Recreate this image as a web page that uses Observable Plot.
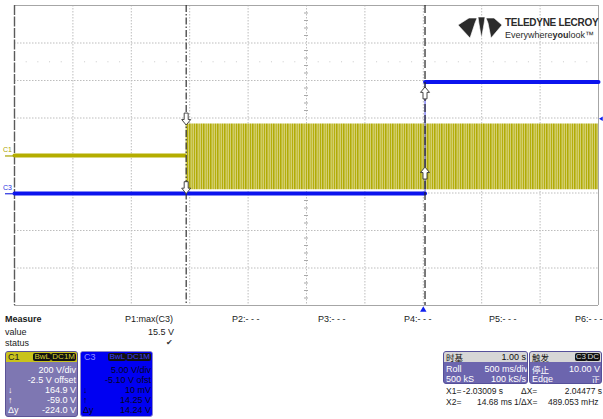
<!DOCTYPE html>
<html><head><meta charset="utf-8">
<script src="https://cdn.jsdelivr.net/npm/d3@7"></script>
<script src="https://cdn.jsdelivr.net/npm/@observablehq/plot@0.6"></script>
<style>
body{margin:0;background:#fff;font-family:"Liberation Sans",Arial,sans-serif;}
#wrap{position:relative;width:603px;height:419px;overflow:hidden;background:#fff;}
#chart{position:absolute;left:0;top:0;}
.t{position:absolute;font-size:9px;line-height:10px;height:10px;color:#1a1a1a;white-space:nowrap;}
.box{position:absolute;box-sizing:border-box;border-radius:3px;overflow:hidden;}
.hdr{position:absolute;left:0;top:0;right:0;height:10px;}
.tag{position:absolute;top:1px;height:8px;line-height:8px;font-size:8px;background:#111;border-radius:2px;padding:0 1px;}
.cjk{font-family:"Noto Sans CJK SC","Liberation Sans",sans-serif;font-size:8.5px;line-height:10px;}
</style></head>
<body>
<div id="wrap">
  <div id="chart"></div>
  <svg id="logo" width="146" height="30" style="position:absolute;left:455px;top:13px;">
    <g fill="#2b2b2b" stroke="#fff" stroke-width="0.6">
      <polygon points="3,12 14,5 22,5 20,10 15,25"/>
      <polygon points="23,4 30,4 29,11 26.5,25 24,11"/>
      <polygon points="31,5 39,5 47,12 36,25 33,10"/>
    </g>
    <text x="50" y="13" font-family="Liberation Sans,Arial" font-weight="bold" font-size="10" letter-spacing="-0.3" fill="#2b2b2b">TELEDYNE LECROY</text>
    <text x="50" y="25" font-family="Liberation Sans,Arial" font-size="9" fill="#2b2b2b">Everywhere<tspan font-weight="bold">you</tspan>look™</text>
  </svg>
  <div id="panel"></div>
</div>
<script>
const gridTimes = [-3.5,-3,-2.5,-2,-1.5,-1,-0.5,0,0.5,1,1.5];   // s, 500 ms/div, roll
const gridDivs = [-4,-3,-2,-1,0,1,2,3,4];
const channelNames = ["C1","C3"];
const c1VoltsPerDiv = 200, c1Offset = -2.5;
const c3VoltsPerDiv = 5, c3Offset = -5.10;
// C1: idle level, then burst envelope
const c1IdleTime = [-3.5, -2.03];
const c1IdleVolts = [2.0, 2.0];
const c1BurstTime = [-2.03, 1.5];
const c1BurstMax = [171, 171];
const c1BurstMin = [-180, -180];
// C3: step
const c3LowTime = [-3.5, 0.015];
const c3LowVolts = [0.03, 0.03];
const c3HighTime = [0.015, 1.5];
const c3HighVolts = [14.9, 14.9];
// cursors
const cursorTimes = [-2.03009, 0.01468];
const cursorC1Volts = [164.9, -59.0];
const cursorC3Volts = [0.01, 14.25];
const triggerTime = 0, triggerLevel = 10.0;
// readouts
const measureHeads = ["P1:max(C3)","P2:- - -","P3:- - -","P4:- - -","P5:- - -","P6:- - -"];
const measureValue = "15.5 V";
const c1Lines = [["","200 V/div"],["","-2.5 V offset"],["↓","164.9 V"],["↑","-59.0 V"],["Δy","-224.0 V"]];
const c3Lines = [["","5.00 V/div"],["","-5.10 V ofst"],["↓","10 mV"],["↑","14.25 V"],["Δy","14.24 V"]];

// ---------- plot ----------
const c1Div = v => (v + c1Offset) / c1VoltsPerDiv;
const c3Div = v => (v + c3Offset) / c3VoltsPerDiv;
const c1Idle = c1IdleTime.map((t,i)=>({t, v:c1IdleVolts[i]}));
const c1Burst = c1BurstTime.map((t,i)=>({t, hi:c1BurstMax[i], lo:c1BurstMin[i]}));
const c3Low = c3LowTime.map((t,i)=>({t, v:c3LowVolts[i]}));
const c3High = c3HighTime.map((t,i)=>({t, v:c3HighVolts[i]}));
const cursorsC1 = cursorTimes.map((t,i)=>({t, v:cursorC1Volts[i], up: i===1}));
const cursorsC3 = cursorTimes.map((t,i)=>({t, v:cursorC3Volts[i], up: i===1}));
const minorT = d3.range(-3.4, 1.5, 0.1).filter(t => Math.abs(t*2 - Math.round(t*2)) > 1e-6);
const minorDiv = d3.range(-3.8, 4, 0.2).filter(d => Math.abs(d - Math.round(d)) > 1e-6);

const arrowDown = {draw(c){c.moveTo(0,0);c.lineTo(-4.5,-5.5);c.lineTo(-2,-5.5);c.lineTo(-2,-12);c.lineTo(2,-12);c.lineTo(2,-5.5);c.lineTo(4.5,-5.5);c.closePath();}};
const arrowUp = {draw(c){c.moveTo(0,0);c.lineTo(-4.5,5.5);c.lineTo(-2,5.5);c.lineTo(-2,12);c.lineTo(2,12);c.lineTo(2,5.5);c.lineTo(4.5,5.5);c.closePath();}};
const pxT = 5/584; // seconds per pixel

const chart = Plot.plot({
  width: 603, height: 316,
  marginLeft: 14, marginRight: 5, marginTop: 5, marginBottom: 11,
  x: {domain: [-3.5, 1.5], axis: null},
  y: {domain: [-4, 4], axis: null},
  style: {background: "transparent", overflow: "visible"},
  marks: [
    Plot.ruleX(gridTimes.slice(1,-1), {x: d=>d, stroke: "#bdbdbd", strokeDasharray: "1.5,1.5"}),
    Plot.ruleY(gridDivs.slice(1,-1), {y: d=>d, stroke: "#bdbdbd", strokeDasharray: "1.5,1.5"}),
    Plot.dot(minorT, {x: d=>d, y: ()=>2.5, r: 0.6, fill: "#c4c4c4", stroke: null}),
    Plot.ruleY(minorDiv, {y: d=>d, x1: ()=>-1 - 2*pxT, x2: ()=>-1 + 2*pxT, stroke: "#a8a8a8"}),
    Plot.ruleY([gridDivs[gridDivs.length-1], gridDivs[0]], {y: d=>d, stroke: "#a6a6a6"}),
    Plot.ruleX([gridTimes[gridTimes.length-1]], {x: d=>d, stroke: "#a6a6a6"}),
    Plot.ruleX([gridTimes[0]], {x: d=>d, stroke: "#5a5a5a", strokeWidth: 1.4, strokeDasharray: "10,1.5"}),
    // C1
    Plot.line(c1Idle, {x: "t", y: d=>c1Div(d.v), stroke: "#b4ad00", strokeWidth: 4}),
    Plot.areaY(c1Burst, {x: "t", y1: d=>c1Div(d.lo), y2: d=>c1Div(d.hi), fill: "#fe01fe"}),
    // C3
    Plot.ruleX([c3LowTime[1]], {x: d=>d, y1: ()=>c3Div(c3LowVolts[1]), y2: ()=>c3Div(c3HighVolts[0]), stroke: "#6a6af5", strokeWidth: 1.2}),
    Plot.line(c3Low, {x: "t", y: d=>c3Div(d.v), stroke: "#0c14ee", strokeWidth: 4}),
    Plot.line(c3High, {x: "t", y: d=>c3Div(d.v), stroke: "#0c14ee", strokeWidth: 4}),
    // cursors
    Plot.ruleX([cursorTimes[0]], {x: d=>d, stroke: "#333", strokeWidth: 1.2, strokeDasharray: "7,2,1.5,2"}),
    Plot.ruleX([cursorTimes[1]], {x: d=>d, stroke: "#222", strokeWidth: 1.2, strokeDasharray: "8,3"}),
    Plot.dot(cursorsC1, {x: "t", y: d=>c1Div(d.v), symbol: d=>d.up ? arrowUp : arrowDown, fill: "#fff", stroke: "#333", strokeWidth: 0.9, r: 4}),
    Plot.dot(cursorsC3, {x: "t", y: d=>c3Div(d.v), symbol: d=>d.up ? arrowUp : arrowDown, fill: "#fff", stroke: "#333", strokeWidth: 0.9, r: 4}),
    // trigger markers
    Plot.dot([triggerTime], {x: d=>d, y: ()=>-4, dy: 4.5, symbol: "triangle", r: 2.4, fill: "#1020f0", stroke: null}),
    Plot.dot([triggerLevel], {x: ()=>1.5, y: d=>c3Div(d), dx: 3, symbol: "triangle", rotate: -90, r: 1.6, fill: "#1020f0", stroke: null}),
    // channel labels and ground markers
    Plot.text(channelNames, {x: ()=>-3.5, y: d=> d==="C1" ? c1Div(0) : c3Div(0), dx: -7, dy: -6, text: d=>d, fontSize: 7, fill: d=> d==="C1" ? "#aaa400" : "#2530e0", fontFamily: "Liberation Sans, Arial"}),
    Plot.ruleY(channelNames, {y: d=> d==="C1" ? c1Div(0) : c3Div(0), x1: ()=>-3.5 - 9*pxT, x2: ()=>-3.5, stroke: d=> d==="C1" ? "#aaa400" : "#2530e0", strokeWidth: 1.2})
  ]
});
// pattern for dense burst
const ns = "http://www.w3.org/2000/svg";
const defs = document.createElementNS(ns, "defs");
defs.innerHTML = '<pattern id="burst" width="7" height="12" patternUnits="userSpaceOnUse">'
  + '<rect width="7" height="12" fill="#dcd88c"/>'
  + '<rect x="0" width="1.6" height="12" fill="#b1ab06"/>'
  + '<rect x="2.6" width="1.2" height="12" fill="#bbb51e"/>'
  + '<rect x="4.8" width="1.4" height="12" fill="#b4ae0c"/></pattern>';
chart.insertBefore(defs, chart.firstChild);
chart.querySelectorAll('[fill="#fe01fe"]').forEach(e => e.setAttribute("fill", "url(#burst)"));
document.getElementById("chart").appendChild(chart);

// ---------- readout panel ----------
const P = document.getElementById("panel");
function t(txt, left, top, opts={}) {
  const d = document.createElement("div");
  d.className = "t" + (opts.cls ? " " + opts.cls : "");
  d.textContent = txt;
  d.style.left = left + "px"; d.style.top = top + "px";
  if (opts.width) { d.style.width = opts.width + "px"; d.style.textAlign = "right"; }
  if (opts.color) d.style.color = opts.color;
  if (opts.bold) d.style.fontWeight = "bold";
  if (opts.size) d.style.fontSize = opts.size + "px";
  (opts.parent || P).appendChild(d);
  return d;
}
t("Measure", 5, 314, {bold: true});
const headX = [125, 232, 318, 404, 489, 575];
measureHeads.forEach((h,i)=>t(h, headX[i], 314));
t("value", 5, 326.5);
t(measureValue, 110, 326.5, {width: 64});
t("status", 5, 338);
t("✔", 166, 338, {size: 8, color: "#333"});

function box(left, top, w, h, bg, border) {
  const b = document.createElement("div");
  b.className = "box";
  Object.assign(b.style, {left: left+"px", top: top+"px", width: w+"px", height: h+"px", background: bg, border: "1px solid " + border});
  P.appendChild(b);
  return b;
}
function hdr(b, bg) { const h = document.createElement("div"); h.className = "hdr"; h.style.background = bg; b.appendChild(h); return h; }
function tag(parent, txt, right, color) { const s = document.createElement("div"); s.className = "tag"; s.textContent = txt; s.style.right = right + "px"; s.style.color = color; parent.appendChild(s); }

// C1 box
const b1 = box(5, 351, 73, 66, "#7e77b2", "#5b5396");
const h1 = hdr(b1, "#c9c31c");
t(channelNames[0], 2, 0, {parent: h1, color: "#222"});
tag(h1, "DC1M", 1, "#d8d230"); tag(h1, "BwL", 26, "#d8d230");
c1Lines.forEach((l,i)=>{ t(l[0], 2, 13 + i*10, {parent: b1, color: "#fff"}); t(l[1], 0, 13 + i*10, {parent: b1, color: "#fff", width: 70}); });
// C3 box
const b3 = box(80, 351, 73, 66, "#0000f2", "#8d89c9");
const h3 = hdr(b3, "#0000f2");
t(channelNames[1], 3, 0, {parent: h3, color: "#8f8fff"});
tag(h3, "DC1M", 1, "#3a3aff"); tag(h3, "BwL", 26, "#3a3aff");
c3Lines.forEach((l,i)=>{ t(l[0], 2, 13 + i*10, {parent: b3, color: "#05051a"}); t(l[1], 0, 13 + i*10, {parent: b3, color: "#05051a", width: 70}); });
// timebase box
const bt = box(443, 351, 85, 33, "#6c65ae", "#55509a");
const ht = hdr(bt, "#d6d6d6");
t("时基", 2, 0, {parent: ht, cls: "cjk", color: "#111"});
t("1.00 s", 0, 0, {parent: ht, width: 82, color: "#111"});
t("Roll", 2, 12, {parent: bt, color: "#fff"}); t("500 ms/div", 0, 12, {parent: bt, width: 84, color: "#fff"});
t("500 kS", 2, 22, {parent: bt, color: "#fff"}); t("100 kS/s", 0, 22, {parent: bt, width: 82, color: "#fff"});
// trigger box
const bg = box(529, 351, 73, 33, "#6c65ae", "#55509a");
const hg = hdr(bg, "#d6d6d6");
t("触发", 2, 0, {parent: hg, cls: "cjk", color: "#111"});
tag(hg, "DC", 1, "#ddd"); tag(hg, "C3", 14, "#ddd");
t("停止", 2, 12, {parent: bg, cls: "cjk", color: "#fff"}); t("10.00 V", 0, 12, {parent: bg, width: 70, color: "#fff"});
t("Edge", 2, 22, {parent: bg, color: "#fff"}); t("正", 58, 22, {parent: bg, cls: "cjk", width: 12, color: "#fff"});
// cursor readouts
t("X1=", 446, 386, {size: 8.5}); t("-2.03009 s", 458, 386, {width: 45, size: 8.5}); t("ΔX=", 521, 386, {size: 8.5}); t("2.04477 s", 545, 386, {width: 57, size: 8.5});
t("X2=", 446, 397, {size: 8.5}); t("14.68 ms", 470, 397, {width: 42, size: 8.5}); t("1/ΔX=", 514, 397, {size: 8.5}); t("489.053 mHz", 548, 397, {size: 8.5});
</script>
</body></html>
